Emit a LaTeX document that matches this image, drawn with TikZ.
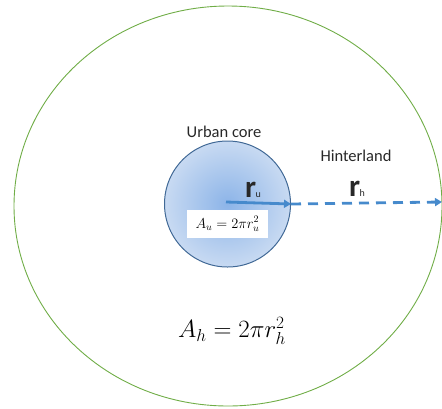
\documentclass[tikz,border=0pt]{standalone}
\usepackage{fontspec}
\usepackage{amsmath}
\newfontfamily\calib{Carlito}
\usetikzlibrary{arrows.meta}
\definecolor{outergreen}{RGB}{112,173,71}
\definecolor{coreedge}{RGB}{65,105,150}
\definecolor{coreinner}{RGB}{140,180,232}
\definecolor{coreouter}{RGB}{200,218,242}
\definecolor{arrowblue}{RGB}{70,138,204}
\definecolor{labelgray}{RGB}{40,40,40}
\tikzset{
  lbl/.style={font=\calib\fontsize{16.5}{18}\selectfont, text=labelgray, inner sep=0pt},
  rlbl/.style={font=\calib\bfseries\fontsize{31}{33}\selectfont, text=labelgray, inner sep=0pt, anchor=base},
  radarrow/.style={draw=arrowblue, line width=2.8pt, -{Triangle[length=7pt,width=8pt]}},
  dasharrow/.style={draw=arrowblue, line width=2.8pt, dash pattern=on 10pt off 7pt, -{Triangle[length=7pt,width=8pt]}},
}
\newcommand{\rsub}[1]{\kern-0.5pt{\fontsize{10}{11}\selectfont\mdseries #1}}
\begin{document}
\begin{tikzpicture}[x=1pt,y=-1pt]
\useasboundingbox (0,0) rectangle (442,408);
\draw[outergreen, line width=0.9pt] (228,206) ellipse [x radius=214, y radius=200];
\node[circle, minimum size=126pt, inner sep=0pt, draw=coreedge, line width=1pt,
      inner color=coreinner, outer color=coreouter] (core) at (227.5,204) {};
\coordinate (c0) at (226,202);
\coordinate (hend) at (442,202);
\draw[radarrow] (c0) -- (core.east);
\draw[dasharrow] (core.east) -- (hend);
\node[lbl] (uc) at (224,132) {Urban core};
\node[lbl] (hl) at (356,156) {Hinterland};
\node[rlbl] (ru) at (253,197) {r\rsub{u}};
\node[rlbl] (rh) at (357,196) {r\rsub{h}};
\node[fill=white, minimum width=81pt, minimum height=28pt, inner sep=0pt] (au) at (227.5,224)
  {\fontsize{14}{16}\selectfont $A_u = 2\pi r_u^2$};
\node[inner sep=0pt] (ah) at (232,331) {\fontsize{26}{30}\selectfont $A_h = 2\pi r_h^2$};
\end{tikzpicture}
\end{document}
